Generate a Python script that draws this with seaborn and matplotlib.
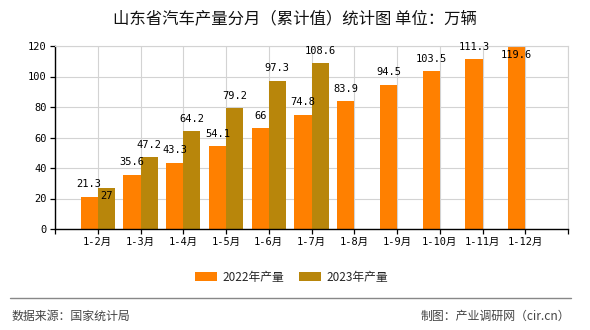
import matplotlib
matplotlib.use("Agg")
import matplotlib.pyplot as plt
import seaborn as sns
import pandas as pd
import numpy as np

# ---- data ----
categories = ["1-2月", "1-3月", "1-4月", "1-5月", "1-6月", "1-7月",
              "1-8月", "1-9月", "1-10月", "1-11月", "1-12月"]
series_names = ["2022年产量", "2023年产量"]
values_2022 = [21.3, 35.6, 43.3, 54.1, 66, 74.8, 83.9, 94.5, 103.5, 111.3, 119.6]
values_2023 = [27, 47.2, 64.2, 79.2, 97.3, 108.6]
y_ticks = [0, 20, 40, 60, 80, 100, 120]

title = "山东省汽车产量分月（累计值）统计图 单位：万辆"
source_text = "数据来源：国家统计局"
credit_text = "制图：产业调研网（cir.cn）"

colors = ["#FF8000", "#B8860B"]

rows = []
for c, v in zip(categories, values_2022):
    rows.append({"cat": c, "series": series_names[0], "value": v})
for c, v in zip(categories, values_2023):
    rows.append({"cat": c, "series": series_names[1], "value": v})
df = pd.DataFrame(rows)

sns.set_theme(style="white")
plt.rcParams["font.family"] = ["Noto Sans CJK SC", "DejaVu Sans"]
mono = ["DejaVu Sans Mono", "Noto Sans CJK SC"]

fig = plt.figure(figsize=(5.9, 3.3), dpi=100)
ax = fig.add_axes([55 / 590, 1 - 229 / 330, (568 - 55) / 590, (229 - 46) / 330])

sns.barplot(data=df, x="cat", y="value", hue="series", order=categories,
            hue_order=series_names, palette=colors, saturation=1,
            width=0.8, linewidth=0, ax=ax, legend=False)

ax.set_xlim(-1, len(categories))
ax.set_ylim(0, 120)
ax.set_yticks(y_ticks)
ax.set_yticklabels([str(t) for t in y_ticks], family=mono, fontsize=7.5, color="black")
ax.set_xticks(range(-1, len(categories) + 1))
ax.set_xticklabels([""] + categories + [""], family=mono, fontsize=7.5, color="black")
ax.set_xlabel("")
ax.set_ylabel("")

ax.set_axisbelow(True)
ax.grid(True, color="#D3D3D3", linewidth=0.8)
for s in ["top", "right"]:
    ax.spines[s].set_color("#D3D3D3")
    ax.spines[s].set_linewidth(0.8)
for s in ["left", "bottom"]:
    ax.spines[s].set_color("black")
    ax.spines[s].set_linewidth(1.0)
ax.tick_params(axis="both", length=3.6, width=0.9, color="black", pad=2.2,
               bottom=True, left=True)

# value labels
special_below = {(1, 0), (0, 10)}  # (series index, category index) drawn inside bar top
for si, cont in enumerate(ax.containers):
    vals = values_2022 if si == 0 else values_2023
    for ci, (bar, v) in enumerate(zip(cont.patches, vals)):
        xc = bar.get_x() + bar.get_width() / 2
        off = -6.1 if (si, ci) in special_below else 9.0
        ax.annotate(f"{v:g}", (xc, bar.get_height()), xytext=(0, off),
                    textcoords="offset points", ha="center", va="center",
                    family=mono, fontsize=7.5, color="black", zorder=5)

# legend
handles = [plt.Rectangle((0, 0), 1, 1, color=c, linewidth=0) for c in colors]
fig.legend(handles, series_names, loc="center", bbox_to_anchor=(291.5 / 590, 1 - 277 / 330),
           ncol=2, frameon=False, fontsize=8.5, handlelength=1.85, handleheight=0.7,
           handletextpad=0.45, columnspacing=1.3, borderpad=0)

# title
fig.text(0.5, 1 - 18.5 / 330, title, ha="center", va="center", fontsize=11.8, color="#111111")

# footer
fig.add_artist(plt.Line2D([10 / 590, 571 / 590], [1 - 298 / 330, 1 - 298 / 330],
                          color="#888888", linewidth=1.0))
fig.text(12 / 590, 1 - 316 / 330, source_text, ha="left", va="center", fontsize=8.6, color="#444444")
fig.text(570 / 590, 1 - 316 / 330, credit_text, ha="right", va="center", fontsize=8.6, color="#444444")

fig.savefig("out.png", dpi=100)
